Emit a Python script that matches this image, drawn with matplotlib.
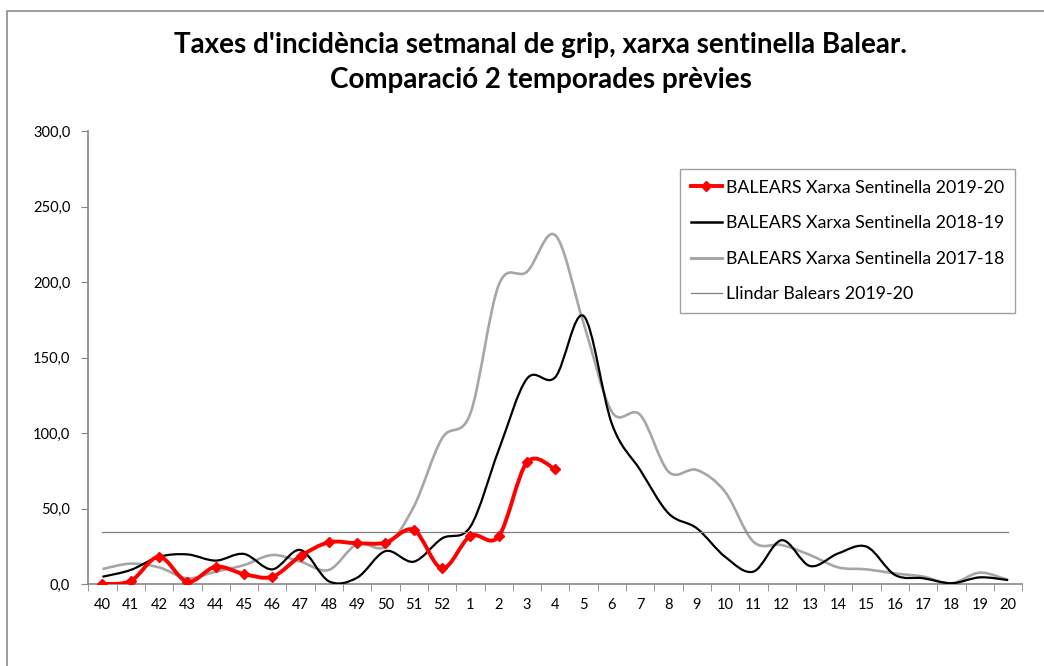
import matplotlib
matplotlib.use('Agg')
import matplotlib.pyplot as plt
from matplotlib.path import Path
from matplotlib.patches import PathPatch, Rectangle
from matplotlib.lines import Line2D
from matplotlib.ticker import FuncFormatter, FixedLocator

weeks = ['40', '41', '42', '43', '44', '45', '46', '47', '48', '49', '50', '51', '52',
         '1', '2', '3', '4', '5', '6', '7', '8', '9', '10', '11', '12', '13', '14',
         '15', '16', '17', '18', '19', '20']

s2019_20 = [0.0, 2.0, 18.0, 1.5, 11.5, 6.6, 4.8, 18.5, 27.6, 27.0, 27.4, 35.8, 10.4,
            31.8, 31.6, 80.6, 76.0]
s2018_19 = [4.8, 9.3, 18.0, 19.6, 15.5, 19.9, 9.7, 22.5, 1.8, 4.2, 21.8, 14.8, 30.2,
            38.0, 88.7, 136.0, 137.0, 177.5, 106.0, 75.5, 46.8, 36.9, 18.0, 8.2, 29.0,
            11.9, 20.3, 24.7, 6.0, 3.8, 0.5, 4.4, 2.6]
s2017_18 = [9.9, 13.5, 11.0, 3.8, 8.2, 12.5, 19.2, 14.8, 9.3, 26.5, 24.7, 51.2, 96.5,
            113.0, 198.0, 206.8, 231.0, 172.6, 114.0, 112.0, 74.4, 75.5, 61.0, 28.0, 25.8,
            19.2, 11.0, 9.7, 7.0, 4.9, 0.5, 7.5, 2.6]
llindar = [34.2] * len(weeks)

labels = ['BALEARS Xarxa Sentinella 2019-20', 'BALEARS Xarxa Sentinella 2018-19',
          'BALEARS Xarxa Sentinella 2017-18', 'Llindar Balears 2019-20']

RED = '#FF0000'
GREY = '#A6A6A6'
AXIS = '#868686'
FONT = 'Lato'


def smooth_path(xs, ys):
    # excel style smoothed line: bezier segments with 1/6 tangents
    n = len(xs)
    verts = [(xs[0], ys[0])]
    codes = [Path.MOVETO]
    for i in range(n - 1):
        a = i - 1 if i > 0 else i
        d = i + 2 if i + 2 < n else i + 1
        c1 = (xs[i] + (xs[i + 1] - xs[a]) / 6, ys[i] + (ys[i + 1] - ys[a]) / 6)
        c2 = (xs[i + 1] - (xs[d] - xs[i]) / 6, ys[i + 1] - (ys[d] - ys[i]) / 6)
        verts += [c1, c2, (xs[i + 1], ys[i + 1])]
        codes += [Path.CURVE4] * 3
    return Path(verts, codes)


fig = plt.figure(figsize=(10.44, 6.66), dpi=100)
ax = fig.add_axes([88.3 / 1044, 82 / 666, 934 / 1044, 453 / 666])

x_all = list(range(len(weeks)))
x_red = list(range(len(s2019_20)))

ax.add_patch(PathPatch(smooth_path(x_all, s2017_18), fill=False, edgecolor=GREY, lw=1.9, zorder=2))
ax.add_patch(PathPatch(smooth_path(x_all, s2018_19), fill=False, edgecolor='black', lw=1.6, zorder=3))
ax.plot(x_all, llindar, color='#808080', lw=0.9, zorder=4)
ax.add_patch(PathPatch(smooth_path(x_red, s2019_20), fill=False, edgecolor=RED, lw=2.8, zorder=5))
ax.plot(x_red, s2019_20, 'D', color=RED, ms=5, ls='none', zorder=6)

ax.set_xlim(-0.5, len(weeks) - 0.5)
ax.set_ylim(0, 300)

ax.set_yticks(range(0, 301, 50))
ax.yaxis.set_major_formatter(FuncFormatter(lambda v, p: f'{v:.1f}'.replace('.', ',')))
ax.set_xticks(x_all)
ax.set_xticklabels(weeks)
ax.xaxis.set_minor_locator(FixedLocator([i - 0.5 for i in range(len(weeks) + 1)]))
ax.tick_params(axis='x', which='major', length=0, pad=10, labelsize=10.5)
ax.tick_params(axis='x', which='minor', length=5, color=AXIS, direction='out')
ax.tick_params(axis='y', length=5, color=AXIS, pad=8, labelsize=10.5)
for lab in ax.get_xticklabels() + ax.get_yticklabels():
    lab.set_fontfamily(FONT)

for s in ['top', 'right']:
    ax.spines[s].set_visible(False)
for s in ['left', 'bottom']:
    ax.spines[s].set_color(AXIS)
    ax.spines[s].set_linewidth(1.2)

handles = [
    Line2D([], [], color=RED, lw=2.8, marker='D', ms=5),
    Line2D([], [], color='black', lw=1.8),
    Line2D([], [], color=GREY, lw=2.2),
    Line2D([], [], color='#808080', lw=0.9),
]
leg = ax.legend(handles, labels, loc='upper left', bbox_to_anchor=(0.6335, 0.916),
                borderaxespad=0, fancybox=False, framealpha=1, edgecolor='#A0A0A0',
                prop={'family': FONT, 'size': 12.8}, handlelength=1.75, handletextpad=0.25,
                labelspacing=1.1, borderpad=0.6)
leg.get_frame().set_linewidth(1.0)

fig.text(0.518, 1 - 45 / 666, "Taxes d'incidència setmanal de grip, xarxa sentinella Balear.",
         ha='center', va='center', fontsize=20, fontweight='bold', family=FONT)
fig.text(0.518, 1 - 80 / 666, 'Comparació 2 temporades prèvies',
         ha='center', va='center', fontsize=20, fontweight='bold', family=FONT)

fig.add_artist(Rectangle((7 / 1044, -0.1), 1.2, 1 - 11 / 666 + 0.1, transform=fig.transFigure,
                         fill=False, edgecolor='#8C8C8C', lw=1.2))

fig.savefig('out.png', dpi=100)
